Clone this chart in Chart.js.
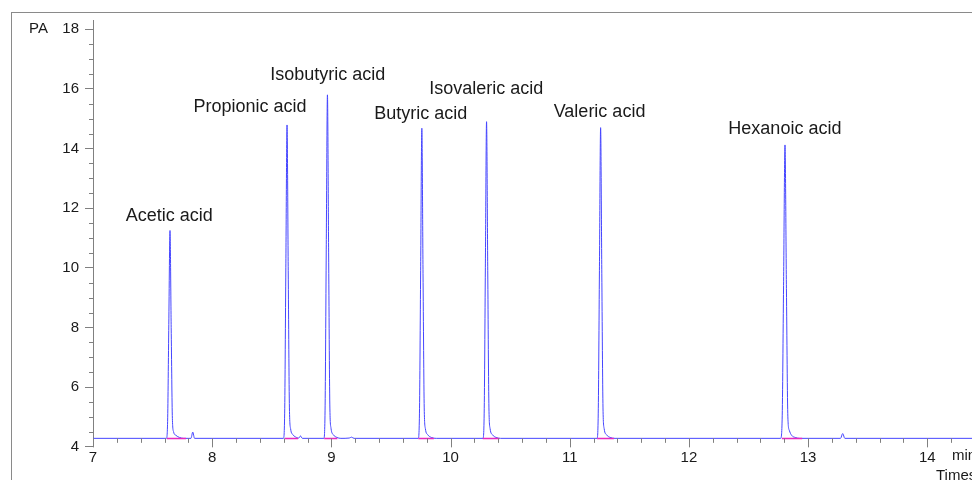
<!DOCTYPE html>
<html>
<head>
<meta charset="utf-8">
<script src="https://cdn.jsdelivr.net/npm/chart.js@4/dist/chart.umd.min.js"></script>
<style>
    body { margin: 0; background: #fff; }
    #gcBox { display: block; }
</style>
</head>
<body>
<canvas id="gcBox" width="972" height="480"></canvas>
<script>
// retention time (min) and detector signal (pA)
let retTime = [
    7.000,
    7.616, 7.626, 7.636, 7.646, 7.656, 7.666, 7.676, 7.696, 7.726, 7.760,
    7.822, 7.837, 7.852,
    8.598, 8.608, 8.618, 8.628, 8.638, 8.648, 8.658, 8.678, 8.708, 8.726, 8.741, 8.756,
    8.937, 8.947, 8.957, 8.967, 8.977, 8.987, 8.997, 9.017, 9.047, 9.080,
    9.150, 9.169, 9.190,
    9.729, 9.739, 9.749, 9.759, 9.769, 9.779, 9.789, 9.809, 9.839, 9.880,
    10.272, 10.282, 10.292, 10.302, 10.312, 10.322, 10.332, 10.352, 10.382, 10.420,
    11.229, 11.239, 11.249, 11.259, 11.269, 11.279, 11.289, 11.309, 11.339, 11.380,
    12.770, 12.782, 12.794, 12.806, 12.818, 12.830, 12.842, 12.862, 12.892, 12.930,
    13.272, 13.290, 13.308,
    14.375
]
let signalPA = [
    4.28,
    4.28, 4.85, 8.10, 11.25, 8.00, 4.95, 4.50, 4.38, 4.31, 4.28,
    4.28, 4.49, 4.28,
    4.28, 5.10, 10.00, 14.79, 9.90, 5.30, 4.60, 4.40, 4.31, 4.29, 4.36, 4.28,
    4.28, 5.20, 10.60, 15.80, 10.50, 5.40, 4.62, 4.40, 4.31, 4.28,
    4.29, 4.32, 4.28,
    4.28, 5.10, 9.90, 14.68, 9.80, 5.30, 4.60, 4.40, 4.31, 4.28,
    4.28, 5.10, 10.00, 14.90, 9.90, 5.30, 4.60, 4.40, 4.31, 4.28,
    4.28, 5.10, 9.90, 14.70, 9.80, 5.30, 4.60, 4.40, 4.31, 4.28,
    4.28, 4.90, 9.40, 14.12, 9.30, 5.00, 4.55, 4.38, 4.31, 4.28,
    4.28, 4.44, 4.28,
    4.28
]

// integration baselines (magenta) under each peak
let intStart = [7.62, 8.61, 8.94, 9.73, 10.27, 11.23, 12.78]
let intEnd = [7.78, 8.72, 9.05, 9.86, 10.41, 11.37, 12.95]
let intLevel = 4.275

// peak names and where the name sits (min, pA)
let peakNames = ['Acetic acid', 'Propionic acid', 'Isobutyric acid', 'Butyric acid', 'Isovaleric acid', 'Valeric acid', 'Hexanoic acid']
let labelTime = [7.64, 8.317, 8.97, 9.75, 10.30, 11.25, 12.805]
let labelPA = [11.72, 15.38, 16.48, 15.14, 15.98, 15.21, 14.67]

// axis ticks
let xMajor = [7, 8, 9, 10, 11, 12, 13, 14]
let yMajor = [4, 6, 8, 10, 12, 14, 16, 18]
let xMin = 7, xMax = 14.375
let yMin = 4, yMax = 18.31
let baseLevel = 4.28

let axisColor = '#808080'
let textColor = '#1a1a1a'
let fontName = '"Liberation Sans", Arial, sans-serif'

// build datasets
let tracePoints = retTime.map((t, i) => ({ x: t, y: signalPA[i] }))
let intPoints = []
intStart.forEach(function (s, i) {
    intPoints.push({ x: s, y: intLevel })
    intPoints.push({ x: intEnd[i], y: intLevel })
    intPoints.push({ x: intEnd[i] + 0.001, y: null })
})

// frame, minor ticks, x ticks, texts
var gcDecor = {
    id: 'gcDecor',
    beforeDraw(chart) {
        const ctx = chart.ctx
        ctx.save()
        ctx.strokeStyle = '#8a8a8a'
        ctx.lineWidth = 1
        ctx.strokeRect(11.5, 12.5, 1200, 1200)
        ctx.restore()
    },
    afterDraw(chart) {
        const ctx = chart.ctx
        const xs = chart.scales.x
        const ys = chart.scales.y
        const axisX = chart.chartArea.left
        ctx.save()
        ctx.strokeStyle = axisColor
        ctx.lineWidth = 1

        // y minor ticks every 0.5
        for (let v = yMin; v <= 18; v += 0.5) {
            if (v % 2 === 0) continue
            const py = Math.round(ys.getPixelForValue(v)) + 0.5
            ctx.beginPath()
            ctx.moveTo(axisX - 4, py)
            ctx.lineTo(axisX, py)
            ctx.stroke()
        }

        // x ticks hang from the baseline
        const by = ys.getPixelForValue(baseLevel)
        for (let k = 0; k <= 36; k++) {
            const v = xMin + k * 0.2
            if (v > xMax) break
            const px = Math.round(xs.getPixelForValue(v)) + 0.5
            const major = k % 5 === 0
            ctx.beginPath()
            ctx.moveTo(px, by)
            ctx.lineTo(px, by + (major ? 9 : 4.5))
            ctx.stroke()
        }

        // texts
        ctx.fillStyle = textColor
        ctx.textBaseline = 'middle'
        ctx.font = '15px ' + fontName
        ctx.textAlign = 'left'
        ctx.fillText('PA', 29, ys.getPixelForValue(18))
        ctx.fillText('min', 952, 456)
        ctx.fillText('Times', 936, 476)

        ctx.font = '18px ' + fontName
        ctx.textAlign = 'center'
        peakNames.forEach(function (name, i) {
            ctx.fillText(name, xs.getPixelForValue(labelTime[i]), ys.getPixelForValue(labelPA[i]))
        })
        ctx.restore()
    }
}

var ctx = document.getElementById('gcBox').getContext('2d')
var gcChart = new Chart(ctx, {
    type: 'line',
    data: {
        datasets: [
            {
                label: 'FID',
                data: tracePoints,
                borderColor: 'rgb(70, 70, 255)',
                borderWidth: 1,
                pointRadius: 0,
                cubicInterpolationMode: 'monotone',
                fill: false,
                order: 2
            },
            {
                label: 'baseline',
                data: intPoints,
                borderColor: 'rgb(230, 40, 190)',
                borderWidth: 1.5,
                pointRadius: 0,
                spanGaps: false,
                fill: false,
                order: 1
            }
        ]
    },
    options: {
        responsive: false,
        animation: false,
        layout: { padding: { top: 20, left: 0, right: 0, bottom: 0 } },
        plugins: {
            legend: { display: false },
            tooltip: { enabled: false }
        },
        scales: {
            x: {
                type: 'linear',
                min: xMin,
                max: xMax,
                afterBuildTicks: s => { s.ticks = xMajor.map(v => ({ value: v })) },
                afterFit: s => { s.height = 33.3 },
                grid: { display: false },
                border: { display: false },
                ticks: {
                    color: textColor,
                    padding: -6,
                    font: { family: fontName, size: 15 }
                }
            },
            y: {
                min: yMin,
                max: yMax,
                afterBuildTicks: s => { s.ticks = yMajor.map(v => ({ value: v })) },
                afterFit: s => { s.width = 93 },
                grid: {
                    drawOnChartArea: false,
                    drawTicks: true,
                    tickLength: 8,
                    color: axisColor
                },
                border: { display: true, color: axisColor },
                ticks: {
                    color: textColor,
                    padding: 6,
                    font: { family: fontName, size: 15 }
                }
            }
        }
    },
    plugins: [gcDecor]
})
</script>
</body>
</html>
